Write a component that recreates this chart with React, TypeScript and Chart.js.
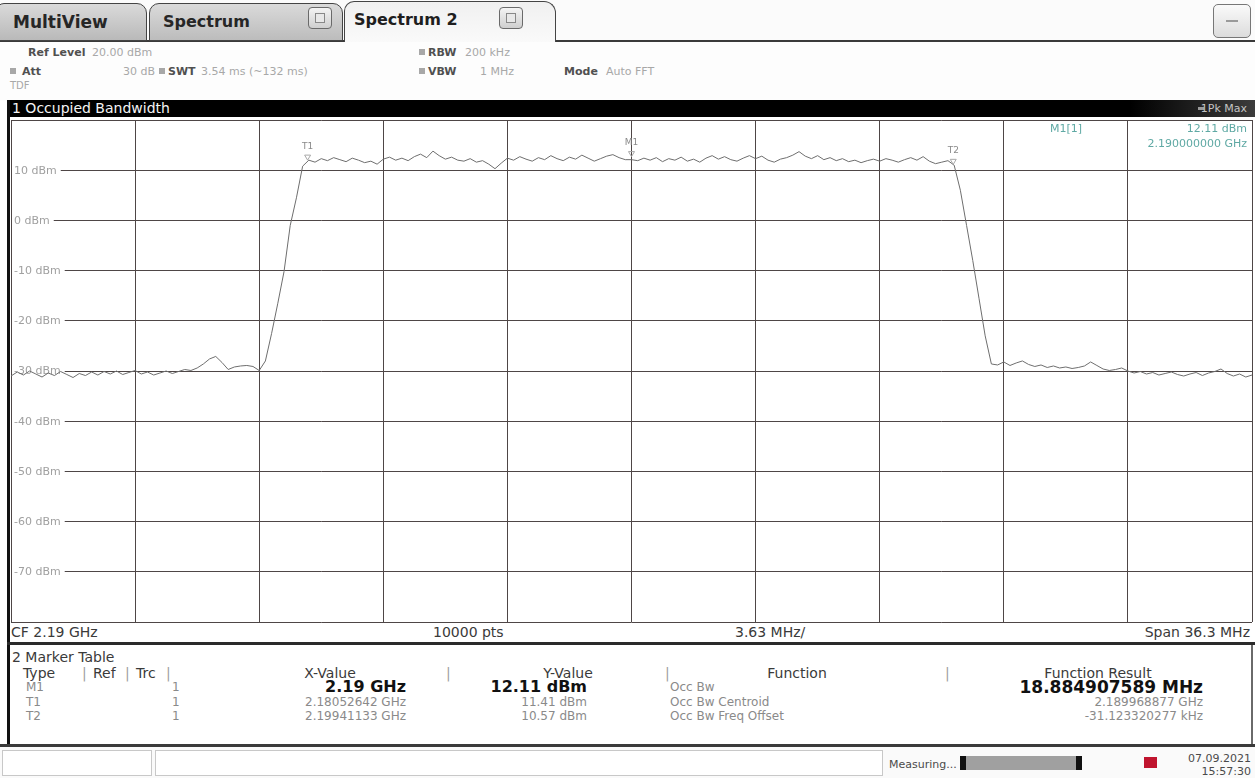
import React, { useEffect, useRef } from "react";
import { Chart, registerables } from "chart.js";

Chart.register(...registerables);

// ---------- data ----------
const CENTER_GHZ = 2.19;
const SPAN_MHZ = 36.3;
const xTickValues = [-18.15, -14.52, -10.89, -7.26, -3.63, 0, 3.63, 7.26, 10.89, 14.52, 18.15];
const yTickValues = [20, 10, 0, -10, -20, -30, -40, -50, -60, -70, -80];
const yTickLabels = ["", "10 dBm", "0 dBm", "-10 dBm", "-20 dBm", "-30 dBm", "-40 dBm", "-50 dBm", "-60 dBm", "-70 dBm", ""];

// trace 1 (1Pk Max), sampled uniformly over the span, dBm
const traceLevels = [
  // left noise floor
  -31.0, -30.2, -30.8, -30.0, -30.6, -31.2, -30.4, -30.9, -30.1, -30.7,
  -31.3, -30.5, -30.9, -30.2, -30.8, -30.1, -30.6, -30.0, -30.7, -30.3,
  -29.9, -30.6, -30.2, -30.8, -30.4, -30.0, -30.5, -30.1, -29.7, -29.9,
  -29.4, -28.6, -27.6, -27.1, -28.3, -29.7, -29.2, -29.0, -28.9, -29.1,
  -29.9,
  // rising edge
  -28.0, -22.5, -16.5, -10.2, -1.0, 4.5, 10.8,
  // occupied channel
  12.0, 11.6, 12.3, 11.9, 12.5, 12.1, 11.7, 12.4, 12.0, 11.5,
  11.8, 11.2, 12.2, 12.6, 12.0, 12.4, 11.9, 12.7, 13.2, 12.5,
  13.8, 12.9, 12.2, 12.6, 12.0, 11.8, 12.3, 11.6, 11.9, 11.2,
  10.3, 11.4, 12.4, 12.0, 12.7, 12.2, 11.8, 12.5, 12.1, 12.9,
  12.3, 11.9, 12.6, 12.2, 13.0, 12.4, 11.8, 12.3, 12.8, 13.1,
  12.5, 12.1, 12.1, 11.9, 12.4, 12.0, 12.5, 11.7, 12.3, 12.0,
  12.6, 11.8, 12.2, 11.6, 12.4, 12.9, 12.2, 12.7, 12.1, 11.8,
  12.4, 12.9, 12.3, 12.8, 12.0, 11.6, 12.2, 12.5, 13.0, 13.7,
  12.8, 12.3, 12.9, 12.1, 12.5, 11.9, 12.3, 11.7, 12.0, 11.5,
  11.9, 12.2, 11.8, 12.3, 12.0, 11.6, 12.1, 12.5, 12.0, 12.7,
  11.8, 11.3, 11.6, 11.9,
  // falling edge
  11.0, 6.0, -1.0, -8.0, -15.5, -23.0, -28.6,
  // right noise floor
  -28.8, -28.2, -28.9, -28.4, -28.0, -28.7, -29.1, -28.8, -29.3, -29.0,
  -29.4, -29.2, -29.5, -29.3, -29.0, -28.2, -28.9, -29.6, -29.9, -29.7,
  -29.4, -30.0, -30.4, -30.1, -30.6, -30.3, -30.8, -30.5, -30.2, -30.7,
  -31.0, -30.6, -30.3, -30.9, -30.4, -30.1, -29.6, -30.5, -31.0, -30.6,
  -31.2, -30.8,
];

const markerNames = ["T1", "M1", "T2"];
const markerOffsetsMHz = [-9.47358, 0, 9.41133];
const markerLevels = [11.41, 12.11, 10.57];

// marker table
const tableTypes = ["M1", "T1", "T2"];
const tableTrc = ["1", "1", "1"];
const tableX = ["2.19 GHz", "2.18052642 GHz", "2.19941133 GHz"];
const tableY = ["12.11 dBm", "11.41 dBm", "10.57 dBm"];
const tableFunc = ["Occ Bw", "Occ Bw Centroid", "Occ Bw Freq Offset"];
const tableResult = ["18.884907589 MHz", "2.189968877 GHz", "-31.123320277 kHz"];

const FONT = '"DejaVu Sans", Verdana, sans-serif';

const overlayPlugin = {
  id: "rsOverlay",
  beforeDatasetsDraw(chart: any) {
    const { ctx, chartArea, scales } = chart;
    const y = scales.y;
    ctx.save();
    ctx.font = `11px ${FONT}`;
    ctx.textBaseline = "middle";
    yTickValues.forEach((v, i) => {
      const label = yTickLabels[i];
      if (!label) return;
      const py = y.getPixelForValue(v);
      const w = ctx.measureText(label).width;
      ctx.fillStyle = "#ffffff";
      ctx.fillRect(chartArea.left + 1, py - 6, w + 6, 12);
      ctx.fillStyle = "#a0a0a0";
      ctx.fillText(label, chartArea.left + 3, py + 0.5);
    });
    ctx.restore();
  },
  afterDatasetsDraw(chart: any) {
    const { ctx, scales } = chart;
    ctx.save();
    ctx.font = `9px ${FONT}`;
    ctx.textAlign = "center";
    ctx.textBaseline = "bottom";
    ctx.fillStyle = "#8a8a8a";
    markerNames.forEach((n, i) => {
      const px = scales.x.getPixelForValue(markerOffsetsMHz[i]);
      const py = scales.y.getPixelForValue(markerLevels[i]);
      ctx.fillText(n, px, py - 12);
      ctx.strokeStyle = "#a8a8a8";
      ctx.lineWidth = 1;
      ctx.beginPath();
      ctx.moveTo(px - 3, py - 8);
      ctx.lineTo(px + 3, py - 8);
      ctx.lineTo(px, py - 3);
      ctx.closePath();
      ctx.stroke();
    });
    ctx.restore();
  },
};

function SpectrumChart() {
  const ref = useRef<HTMLCanvasElement | null>(null);
  useEffect(() => {
    if (!ref.current) return;
    const n = traceLevels.length;
    const pts = traceLevels.map((v, i) => ({ x: -SPAN_MHZ / 2 + (i * SPAN_MHZ) / (n - 1), y: v }));
    const gridColor = "#4e4646";
    const chart = new Chart(ref.current, {
      type: "line",
      data: {
        datasets: [
          {
            data: pts,
            borderColor: "#6e6e6e",
            borderWidth: 1,
            pointRadius: 0,
            tension: 0,
            fill: false,
          },
        ],
      },
      options: {
        animation: false,
        responsive: false,
        events: [],
        layout: { padding: { left: 1, right: 1, top: 1, bottom: 1 } },
        plugins: { legend: { display: false }, tooltip: { enabled: false } },
        scales: {
          x: {
            type: "linear",
            min: -SPAN_MHZ / 2,
            max: SPAN_MHZ / 2,
            afterBuildTicks: (s: any) => {
              s.ticks = xTickValues.map((v) => ({ value: v }));
            },
            ticks: { display: false },
            grid: { color: gridColor, lineWidth: 1, drawTicks: false },
            border: { display: false },
          },
          y: {
            type: "linear",
            min: -80,
            max: 20,
            afterBuildTicks: (s: any) => {
              s.ticks = yTickValues.map((v) => ({ value: v }));
            },
            ticks: { display: false },
            grid: { color: gridColor, lineWidth: 1, drawTicks: false },
            border: { display: false },
          },
        },
      },
      plugins: [overlayPlugin],
    } as any);
    return () => chart.destroy();
  }, []);
  return (
    <canvas
      ref={ref}
      width={1243}
      height={504}
      style={{ position: "absolute", left: 10, top: 119, width: 1243, height: 504 }}
    />
  );
}

const abs = (l: number, t: number, extra: any = {}) => ({ position: "absolute" as const, left: l, top: t, ...extra });

function Txt({ x, y, children, size = 11, bold = false, color = "#9a9a9a", align = "left", w }: any) {
  const style: any = {
    position: "absolute",
    top: y,
    fontSize: size,
    fontWeight: bold ? "bold" : "normal",
    color,
    whiteSpace: "nowrap",
    lineHeight: `${size + 2}px`,
    transform: "translateY(-50%)",
  };
  if (align === "right") {
    style.right = 1255 - x;
  } else if (align === "center") {
    style.left = x - (w || 300) / 2;
    style.width = w || 300;
    style.textAlign = "center";
  } else {
    style.left = x;
  }
  return <div style={style}>{children}</div>;
}

function Sq({ x, y }: any) {
  return <div style={abs(x, y - 3, { width: 6, height: 6, background: "#a8a8a8" })} />;
}

function CloseBtn({ x }: any) {
  return (
    <div
      style={abs(x, 7, {
        width: 24,
        height: 22,
        border: "1px solid #6a6a6a",
        borderRadius: 4,
        background: "linear-gradient(#f4f4f4,#cfcfcf)",
        boxSizing: "border-box",
      })}
    >
      <div style={abs(6, 5, { width: 10, height: 10, border: "1px solid #888", boxSizing: "border-box", background: "#e8e8e8" })} />
    </div>
  );
}

export default function App() {
  useEffect(() => {
    document.body.style.margin = "0";
  }, []);
  const rowColor = "#8a8a8a";
  return (
    <div
      style={{
        position: "fixed",
        left: 0,
        top: 0,
        width: 1255,
        height: 778,
        overflow: "hidden",
        background: "#ffffff",
        fontFamily: FONT,
      }}
    >
      {/* tab bar */}
      <div style={abs(0, 0, { width: 1255, height: 41, background: "#fbfbfb" })} />
      <div style={abs(0, 40, { width: 1255, height: 2, background: "#3a3a3a" })} />
      <div
        style={abs(-4, 3, {
          width: 151,
          height: 38,
          background: "linear-gradient(#dadada,#b9b9b9)",
          border: "1px solid #444",
          borderRadius: "8px 10px 0 0",
          boxSizing: "border-box",
        })}
      />
      <div
        style={abs(149, 3, {
          width: 194,
          height: 38,
          background: "linear-gradient(#dadada,#bcbcbc)",
          border: "1px solid #444",
          borderRadius: "10px 10px 0 0",
          boxSizing: "border-box",
        })}
      />
      <div
        style={abs(344, 1, {
          width: 212,
          height: 42,
          background: "linear-gradient(#f0f0f0,#fafafa)",
          border: "1px solid #444",
          borderBottom: "none",
          borderRadius: "10px 12px 0 0",
          boxSizing: "border-box",
        })}
      />
      <Txt x={13} y={22} size={17} bold color="#262626">MultiView</Txt>
      <Txt x={163} y={22} size={16} bold color="#262626">Spectrum</Txt>
      <Txt x={354} y={20} size={16} bold color="#1e1e1e">Spectrum 2</Txt>
      <CloseBtn x={308} />
      <CloseBtn x={499} />
      <div
        style={abs(1213, 4, {
          width: 38,
          height: 34,
          border: "1px solid #777",
          borderRadius: 5,
          background: "linear-gradient(#fafafa,#dcdcdc)",
          boxSizing: "border-box",
        })}
      >
        <div style={abs(12, 15, { width: 12, height: 2, background: "#9a9a9a" })} />
      </div>

      {/* settings */}
      <div style={abs(0, 42, { width: 1255, height: 59, background: "#fdfdfd" })} />
      <Txt x={28} y={52} size={11} bold color="#505050">Ref Level</Txt>
      <Txt x={92} y={52} size={11} color="#a8a8a8">20.00 dBm</Txt>
      <Sq x={419} y={52} />
      <Txt x={428} y={52} size={11} bold color="#505050">RBW</Txt>
      <Txt x={465} y={52} size={11} color="#a8a8a8">200 kHz</Txt>
      <Sq x={10} y={71} />
      <Txt x={22} y={71} size={11} bold color="#505050">Att</Txt>
      <Txt x={155} y={71} size={11} color="#a8a8a8" align="right">30 dB</Txt>
      <Sq x={159} y={71} />
      <Txt x={168} y={71} size={11} bold color="#505050">SWT</Txt>
      <Txt x={201} y={71} size={11} color="#a8a8a8">3.54 ms (~132 ms)</Txt>
      <Sq x={419} y={71} />
      <Txt x={428} y={71} size={11} bold color="#505050">VBW</Txt>
      <Txt x={514} y={71} size={11} color="#a8a8a8" align="right">1 MHz</Txt>
      <Txt x={564} y={71} size={11} bold color="#505050">Mode</Txt>
      <Txt x={606} y={71} size={11} color="#a8a8a8">Auto FFT</Txt>
      <Txt x={10} y={86} size={10} color="#a8a8a8">TDF</Txt>

      {/* window title bar */}
      <div
        style={abs(7, 100, {
          width: 1248,
          height: 17,
          background: "linear-gradient(90deg,#000 0%,#000 90%,#3c3c3c 100%)",
        })}
      />
      <Txt x={12} y={108} size={14} color="#f4f4f4">1 Occupied Bandwidth</Txt>
      <div style={abs(1198, 107, { width: 6, height: 3, background: "#9a9a9a" })} />
      <Txt x={1247} y={108} size={11} color="#c4c4c4" align="right">1Pk Max</Txt>

      {/* left frame */}
      <div style={abs(7, 100, { width: 3, height: 645, background: "#111" })} />

      <SpectrumChart />

      {/* marker info top right */}
      <Txt x={1050} y={128} size={11} color="#5fa9a4">M1[1]</Txt>
      <Txt x={1247} y={128} size={11} color="#5fa9a4" align="right">12.11 dBm</Txt>
      <Txt x={1247} y={143} size={11} color="#5fa9a4" align="right">2.190000000 GHz</Txt>

      {/* bottom info row */}
      <Txt x={11} y={632} size={14} color="#3a3a3a">CF 2.19 GHz</Txt>
      <Txt x={433} y={632} size={14} color="#3a3a3a">10000 pts</Txt>
      <Txt x={735} y={632} size={14} color="#3a3a3a">3.63 MHz/</Txt>
      <Txt x={1250} y={632} size={14} color="#3a3a3a" align="right">Span 36.3 MHz</Txt>
      <div style={abs(7, 642, { width: 1248, height: 3, background: "#2a2a2a" })} />
      <div style={abs(1251, 645, { width: 2, height: 100, background: "#6a6a6a" })} />

      {/* marker table */}
      <Txt x={12} y={657} size={14} color="#3a3a3a">2 Marker Table</Txt>
      <Txt x={23} y={673} size={14} color="#3a3a3a">Type</Txt>
      <Txt x={82} y={673} size={14} color="#a0a0a0">|</Txt>
      <Txt x={93} y={673} size={14} color="#3a3a3a">Ref</Txt>
      <Txt x={125} y={673} size={14} color="#a0a0a0">|</Txt>
      <Txt x={136} y={673} size={14} color="#3a3a3a">Trc</Txt>
      <Txt x={166} y={673} size={14} color="#a0a0a0">|</Txt>
      <Txt x={330} y={673} size={14} color="#3a3a3a" align="center">X-Value</Txt>
      <Txt x={446} y={673} size={14} color="#a0a0a0">|</Txt>
      <Txt x={568} y={673} size={14} color="#3a3a3a" align="center">Y-Value</Txt>
      <Txt x={665} y={673} size={14} color="#a0a0a0">|</Txt>
      <Txt x={797} y={673} size={14} color="#3a3a3a" align="center">Function</Txt>
      <Txt x={945} y={673} size={14} color="#a0a0a0">|</Txt>
      <Txt x={1098} y={673} size={14} color="#3a3a3a" align="center">Function Result</Txt>
      {tableTypes.map((t, i) => {
        const yy = 687 + i * 14.5;
        const strong = i === 0;
        return (
          <React.Fragment key={t}>
            <Txt x={26} y={yy} size={12} color={rowColor}>{t}</Txt>
            <Txt x={172} y={yy} size={12} color={rowColor}>{tableTrc[i]}</Txt>
            <Txt x={406} y={yy} size={strong ? 16 : 12} bold={strong} color={strong ? "#111" : rowColor} align="right">{tableX[i]}</Txt>
            <Txt x={587} y={yy} size={strong ? 16 : 12} bold={strong} color={strong ? "#111" : rowColor} align="right">{tableY[i]}</Txt>
            <Txt x={670} y={yy} size={12} color={rowColor}>{tableFunc[i]}</Txt>
            <Txt x={1203} y={yy} size={strong ? 17 : 12} bold={strong} color={strong ? "#111" : rowColor} align="right">{tableResult[i]}</Txt>
          </React.Fragment>
        );
      })}

      {/* status bar */}
      <div style={abs(0, 744, { width: 1255, height: 3, background: "#3a3a3a" })} />
      <div style={abs(0, 747, { width: 1255, height: 31, background: "#fafafa" })} />
      <div style={abs(2, 750, { width: 150, height: 26, border: "1px solid #c8c8c8", boxSizing: "border-box", background: "#fff" })} />
      <div style={abs(155, 750, { width: 728, height: 26, border: "1px solid #c8c8c8", boxSizing: "border-box", background: "#fff" })} />
      <Txt x={889} y={764} size={11} color="#4a4a4a">Measuring...</Txt>
      <div style={abs(960, 756, { width: 122, height: 14, background: "#a0a0a0", borderLeft: "6px solid #111", borderRight: "6px solid #111", boxSizing: "border-box" })} />
      <div style={abs(1144, 757, { width: 13, height: 11, background: "#c0142e" })} />
      <Txt x={1251} y={758} size={11} color="#4a4a4a" align="right">07.09.2021</Txt>
      <Txt x={1251} y={771} size={11} color="#4a4a4a" align="right">15:57:30</Txt>
    </div>
  );
}
